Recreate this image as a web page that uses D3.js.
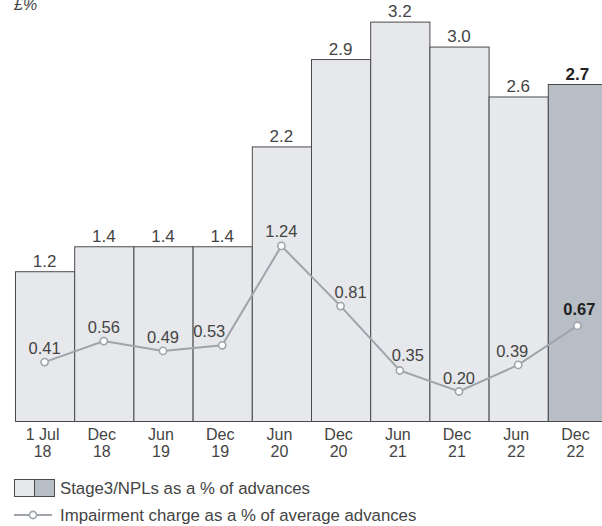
<!DOCTYPE html>
<html>
<head>
<meta charset="utf-8">
<script src="https://cdn.jsdelivr.net/npm/d3@7"></script>
<style>
  html, body { margin: 0; padding: 0; background: #fff; }
  svg { display: block; font-family: "Liberation Sans", Arial, sans-serif; }
</style>
</head>
<body>
<svg id="chart" width="602" height="526"></svg>
<script>
// Period labels (two lines each)
const periodTop = ["1 Jul", "Dec", "Jun", "Dec", "Jun", "Dec", "Jun", "Dec", "Jun", "Dec"];
const periodBottom = ["18", "18", "19", "19", "20", "20", "21", "21", "22", "22"];

// Stage3/NPLs as a % of advances
const npl = [1.2, 1.4, 1.4, 1.4, 2.2, 2.9, 3.2, 3.0, 2.6, 2.7];
const nplLabels = ["1.2", "1.4", "1.4", "1.4", "2.2", "2.9", "3.2", "3.0", "2.6", "2.7"];

// Impairment charge as a % of average advances
const impairment = [0.41, 0.56, 0.49, 0.53, 1.24, 0.81, 0.35, 0.20, 0.39, 0.67];
const impairmentLabels = ["0.41", "0.56", "0.49", "0.53", "1.24", "0.81", "0.35", "0.20", "0.39", "0.67"];

// Label nudges for the line values [dx, dy] to keep them clear of the line
const lineLabelNudge = [[0, -8], [0, -8], [0, -8], [-13, -8], [0, -9], [10, -8], [8, -10], [0, -8], [-6, -8], [2, -11]];

const highlightIndex = npl.length - 1;

const svg = d3.select("#chart");
const idx = d3.range(npl.length);

const x = d3.scaleBand().domain(idx).range([15, 607]).padding(0);
const yBar = d3.scaleLinear().domain([0, 3.2]).range([421, 21.6]);
const yLine = d3.scaleLinear().domain([0, 1]).range([419.5, 279.5]);

const textColor = "#444";
const strongColor = "#222";
const lightFill = "#e6e8eb";
const darkFill = "#b8bec5";
const edge = "#4a4a4a";
const lineColor = "#9ea4aa";

// unit label
svg.append("text")
  .attr("x", 14).attr("y", 10)
  .attr("font-size", 16).attr("font-style", "italic")
  .attr("fill", textColor)
  .text("£%");

// bars
svg.append("g").selectAll("rect")
  .data(idx).join("rect")
  .attr("x", i => x(i) + 0.5)
  .attr("y", i => yBar(npl[i]) + 0.5)
  .attr("width", x.bandwidth())
  .attr("height", i => yBar(0) - yBar(npl[i]))
  .attr("fill", i => i === highlightIndex ? darkFill : lightFill)
  .attr("stroke", edge)
  .attr("stroke-width", 1);

// bar value labels
svg.append("g").selectAll("text")
  .data(idx).join("text")
  .attr("x", i => x(i) + x.bandwidth() / 2)
  .attr("y", i => yBar(npl[i]) - 4.5)
  .attr("text-anchor", "middle")
  .attr("font-size", 17)
  .attr("font-weight", i => i === highlightIndex ? "bold" : "normal")
  .attr("fill", i => i === highlightIndex ? strongColor : textColor)
  .text(i => nplLabels[i]);

// impairment line
const line = d3.line()
  .x(i => x(i) + x.bandwidth() / 2)
  .y(i => yLine(impairment[i]));

svg.append("path")
  .datum(idx)
  .attr("d", line)
  .attr("fill", "none")
  .attr("stroke", lineColor)
  .attr("stroke-width", 2);

svg.append("g").selectAll("circle")
  .data(idx).join("circle")
  .attr("cx", i => x(i) + x.bandwidth() / 2)
  .attr("cy", i => yLine(impairment[i]))
  .attr("r", 3.6)
  .attr("fill", "#fff")
  .attr("stroke", lineColor)
  .attr("stroke-width", 1.6);

svg.append("g").selectAll("text")
  .data(idx).join("text")
  .attr("x", i => x(i) + x.bandwidth() / 2 + lineLabelNudge[i][0])
  .attr("y", i => yLine(impairment[i]) + lineLabelNudge[i][1])
  .attr("text-anchor", "middle")
  .attr("font-size", 16.5)
  .attr("font-weight", i => i === highlightIndex ? "bold" : "normal")
  .attr("fill", i => i === highlightIndex ? strongColor : textColor)
  .text(i => impairmentLabels[i]);

// period axis labels
const axisG = svg.append("g");
axisG.selectAll("text.top")
  .data(idx).join("text")
  .attr("class", "top")
  .attr("x", i => x(i) + x.bandwidth() / 2 - 2)
  .attr("y", 440)
  .attr("text-anchor", "middle")
  .attr("font-size", 16)
  .attr("fill", textColor)
  .text(i => periodTop[i]);
axisG.selectAll("text.bottom")
  .data(idx).join("text")
  .attr("class", "bottom")
  .attr("x", i => x(i) + x.bandwidth() / 2 - 2)
  .attr("y", 456.5)
  .attr("text-anchor", "middle")
  .attr("font-size", 16)
  .attr("fill", textColor)
  .text(i => periodBottom[i]);

// legend
const legend = svg.append("g");
legend.append("rect").attr("x", 14.5).attr("y", 479.5).attr("width", 20).attr("height", 17)
  .attr("fill", lightFill).attr("stroke", edge);
legend.append("rect").attr("x", 34.5).attr("y", 479.5).attr("width", 20).attr("height", 17)
  .attr("fill", darkFill).attr("stroke", edge);
legend.append("text").attr("x", 60).attr("y", 494)
  .attr("font-size", 16.8).attr("fill", textColor)
  .text("Stage3/NPLs as a % of advances");

legend.append("line").attr("x1", 14).attr("x2", 52).attr("y1", 515).attr("y2", 515)
  .attr("stroke", lineColor).attr("stroke-width", 2);
legend.append("circle").attr("cx", 33).attr("cy", 515).attr("r", 3.6)
  .attr("fill", "#fff").attr("stroke", lineColor).attr("stroke-width", 1.6);
legend.append("text").attr("x", 60).attr("y", 521)
  .attr("font-size", 16.8).attr("fill", textColor)
  .text("Impairment charge as a % of average advances");
</script>
</body>
</html>
